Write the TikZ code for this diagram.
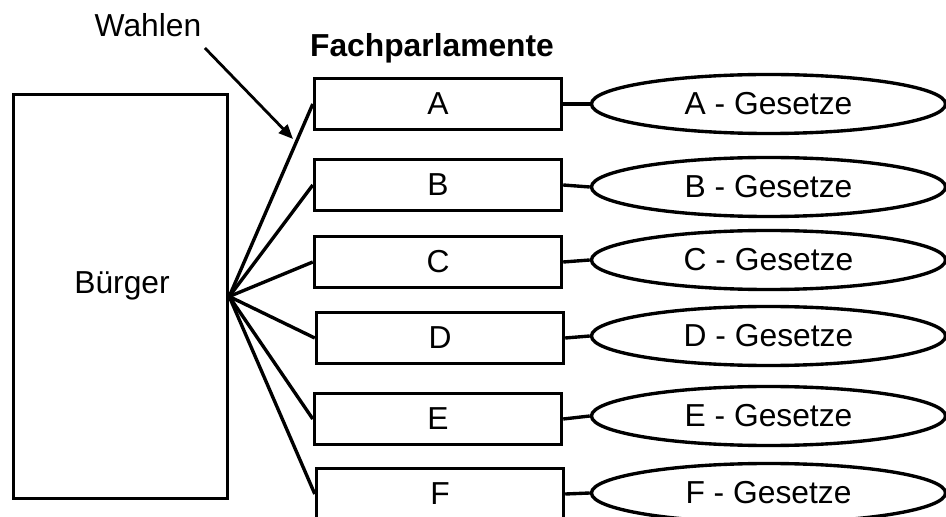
\documentclass[tikz,border=0pt]{standalone}
\usepackage{fontspec}
\setmainfont{Liberation Sans}
\usetikzlibrary{shapes.geometric,arrows.meta}

\begin{document}
\begin{tikzpicture}[x=0.025cm,y=-0.025cm,line width=2.4pt,
  font=\fontsize{22.6}{27}\selectfont,
  kammer/.style={draw,rectangle,minimum width=6.175cm,minimum height=1.275cm,inner sep=0pt},
  gesetz/.style={draw,ellipse,minimum width=8.85cm,minimum height=1.475cm,inner sep=0pt}]
\useasboundingbox (0,0) rectangle (946,517);
% Buerger
\node[draw,rectangle,minimum width=5.35cm,minimum height=10.1cm,inner sep=0pt] (buerger) at (120.5,296.5) {};
\node (buergertext) at (122,286) {Bürger};
% Fachparlamente
\node[anchor=base,font=\fontsize{22.6}{27}\selectfont\bfseries] (titel) at (432,57) {Fachparlamente};
\node[kammer] (a) at (438,104) {A};
\node[kammer] (b) at (438,185) {B};
\node[kammer] (c) at (438,262) {C};
\node[kammer] (d) at (440,338) {D};
\node[kammer] (e) at (438,419) {E};
\node[kammer] (f) at (440,494) {F};
% Gesetze
\node[gesetz] (ga) at (768.5,104) {A - Gesetze};
\node[gesetz] (gb) at (768.5,187) {B - Gesetze};
\node[gesetz] (gc) at (768.5,260) {C - Gesetze};
\node[gesetz] (gd) at (768.5,336) {D - Gesetze};
\node[gesetz] (ge) at (768.5,416) {E - Gesetze};
\node[gesetz] (gf) at (768.5,493) {F - Gesetze};
% Wahlen
\node[anchor=base,inner xsep=0pt,inner ysep=5pt] (wahlen) at (148,37) {Wahlen};
\coordinate (wahlziel) at (293,139);
\draw[-{Triangle[length=0.36cm,width=0.3cm]},line width=2pt,shorten <=2pt] (wahlen.south east) -- (wahlziel);
% 
\draw (buerger.east) -- (a.west);
\draw (buerger.east) -- (b.west);
\draw (buerger.east) -- (c.west);
\draw (buerger.east) -- (d.west);
\draw (buerger.east) -- (e.west);
\draw (buerger.east) -- (f.west);
\draw (a.east) -- (ga.west);
\draw (b.east) -- (gb.west);
\draw (c.east) -- (gc.west);
\draw (d.east) -- (gd.west);
\draw (e.east) -- (ge.west);
\draw (f.east) -- (gf.west);
\end{tikzpicture}
\end{document}
